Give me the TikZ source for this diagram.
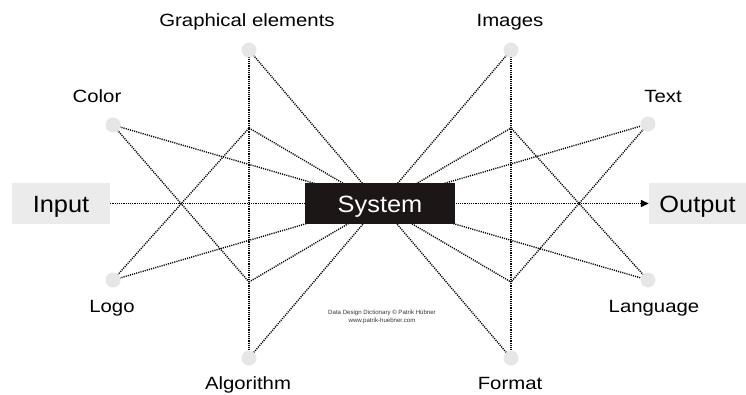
\documentclass[tikz,border=0pt]{standalone}
\usepackage{fontspec}
\setmainfont{Liberation Sans}
\newfontfamily\lblfont[FakeStretch=1.15]{Liberation Sans}
\newfontfamily\bigfont[FakeStretch=1.08]{Liberation Sans}
\usetikzlibrary{arrows.meta}
\pgfdeclarelayer{background}
\pgfsetlayers{background,main}
\definecolor{boxgray}{HTML}{EBEBEB}
\definecolor{dotgray}{HTML}{E6E6E6}
\definecolor{sysblack}{HTML}{1C1616}
\definecolor{credgray}{HTML}{333333}
\tikzset{
  dotnode/.style={circle, fill=dotgray, minimum size=15pt, inner sep=0pt},
  lbl/.style={anchor=base, inner sep=0pt, font=\lblfont\fontsize{17.7}{20}\selectfont},
  iobox/.style={fill=boxgray, minimum height=41pt, inner sep=0pt, text height=17pt, text depth=0pt,
    font=\bigfont\fontsize{23.5}{28}\selectfont},
  sysbox/.style={fill=sysblack, text=white, minimum width=150pt, minimum height=41pt, inner sep=0pt,
    text height=17pt, text depth=0pt, font=\bigfont\fontsize{23.5}{28}\selectfont},
  conn/.style={draw=black, line width=1.4pt, dash pattern=on 1.1pt off 1.1pt},
}
\begin{document}
\begin{tikzpicture}[x=1pt,y=-1pt]
\useasboundingbox (0,0) rectangle (746,394);

% boxes
\node[iobox, minimum width=98pt] (input) at (61,203.5) {Input};
\node[iobox, minimum width=97pt] (output) at (697.5,203.5) {Output};
\node[sysbox] (system) at (380,203.5) {System};

% dots
\node[dotnode] (color) at (113,125) {};
\node[dotnode] (logo) at (113,280) {};
\node[dotnode] (graph) at (249,50) {};
\node[dotnode] (algo) at (249,358) {};
\node[dotnode] (images) at (511,50) {};
\node[dotnode] (format) at (511,358) {};
\node[dotnode] (text) at (648,124) {};
\node[dotnode] (lang) at (648,280) {};

% waypoints
\coordinate (ul) at (249,128);
\coordinate (ll) at (249,282);
\coordinate (ur) at (511,128);
\coordinate (lr) at (511,282);

% labels
\node[lbl] (colorlbl) at (97,102.5) {Color};
\node[lbl] (textlbl) at (663,102.5) {Text};
\node[lbl] (graphlbl) at (247,26) {Graphical elements};
\node[lbl] (imageslbl) at (510,26) {Images};
\node[lbl] (logolbl) at (112,312) {Logo};
\node[lbl] (langlbl) at (654,312) {Language};
\node[lbl] (algolbl) at (248,389.5) {Algorithm};
\node[lbl] (formatlbl) at (510,389.5) {Format};

\node[align=center, inner sep=0pt, text=credgray, font=\fontsize{6.1}{8}\selectfont] (credit) at (382,316.5)
  {Data Design Dictionary © Patrik Hübner\\www.patrik-huebner.com};

\begin{pgfonlayer}{background}
  \draw[conn, -{Triangle[length=8pt,width=7pt]}] (input.east) -- (output.west);
  \draw[conn] (color.center) -- (lang.center);
  \draw[conn] (logo.center) -- (text.center);
  \draw[conn] (ul) -- (lr);
  \draw[conn] (ll) -- (ur);
  \draw[conn] (graph.center) -- (format.center);
  \draw[conn] (images.center) -- (algo.center);
  \draw[conn] (color.center) -- (ll);
  \draw[conn] (logo.center) -- (ul);
  \draw[conn] (text.center) -- (lr);
  \draw[conn] (lang.center) -- (ur);
  \draw[conn] (graph.center) -- (algo.center);
  \draw[conn] (images.center) -- (format.center);
\end{pgfonlayer}
\end{tikzpicture}
\end{document}
